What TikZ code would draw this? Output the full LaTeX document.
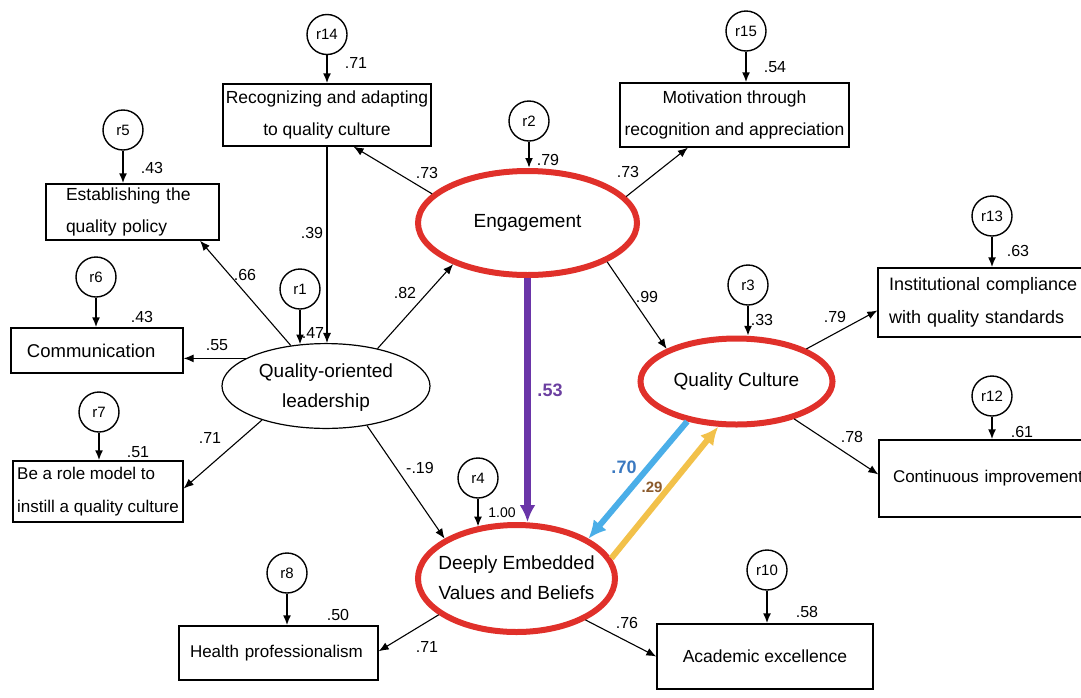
\documentclass[tikz,border=0pt]{standalone}
\usepackage{fontspec}
\setmainfont{Liberation Sans}
\usetikzlibrary{shapes.geometric,arrows.meta,calc}
\definecolor{semred}{HTML}{E0302A}
\definecolor{pathpurple}{HTML}{6A35A8}
\definecolor{pathblue}{HTML}{4AAEE8}
\definecolor{pathyellow}{HTML}{F2C14A}
\definecolor{numpurple}{HTML}{6B3FA0}
\definecolor{numblue}{HTML}{3A78C0}
\definecolor{numbrown}{HTML}{8B5A2B}
\hyphenpenalty=10000
\exhyphenpenalty=10000
% zero-width wrapper so ellipse nodes keep their own size
\newcommand\flatbox[1]{\makebox[0pt]{#1}}
\newcommand\twolines[2]{\flatbox{\begin{tabular}{@{}c@{}}#1\\#2\end{tabular}}}
\begin{document}
\begin{tikzpicture}[x=1pt,y=-1pt,
  obs/.style={draw, rectangle, line width=1.3pt, inner sep=0pt,
    font=\fontsize{17.5}{32.5}\selectfont},
  err/.style={draw, circle, line width=1.4pt, minimum size=40pt, inner sep=0pt,
    font=\fontsize{15}{18}\selectfont},
  latent/.style={draw=semred, ellipse, line width=6pt, inner sep=0pt,
    font=\fontsize{19}{30}\selectfont},
  exo/.style={draw, ellipse, line width=1.2pt, inner sep=0pt,
    font=\fontsize{19}{30}\selectfont},
  link/.style={-{Latex[length=10pt,width=8pt]}, line width=1.1pt},
  errlink/.style={-{Latex[length=10pt,width=8pt]}, line width=1.8pt},
  num/.style={font=\fontsize{16}{19}\selectfont, inner sep=0pt},
  bignum/.style={font=\fontsize{18}{21}\selectfont\bfseries, inner sep=0pt},
]
\useasboundingbox (0,0) rectangle (1081,697);

% ---- latent variables ----
\node[exo, minimum width=208pt, minimum height=78pt] (lead) at (326,386)
  {\twolines{Quality-oriented}{leadership}};
\node[latent, minimum width=219pt, minimum height=104pt] (eng) at (527.5,223)
  {\flatbox{Engagement}};
\node[latent, minimum width=192pt, minimum height=86pt] (qc) at (736.5,381.5)
  {\flatbox{Quality Culture}};
\node[latent, minimum width=197pt, minimum height=107pt] (devb) at (516.5,578.5)
  {\twolines{Deeply Embedded}{Values and Beliefs}};

% ---- observed indicators ----
\node[obs, minimum width=208pt, minimum height=62pt, align=center] (rec) at (327,115)
  {Recognizing and adapting\\to quality culture};
\node[obs, minimum height=56pt, text width=133pt, inner xsep=20pt, align=left] (est) at (132.5,212)
  {Establishing the\\quality policy};
\node[obs, minimum width=229pt, minimum height=64pt, align=center] (mot) at (734.5,115)
  {Motivation through\\recognition and appreciation};
\node[obs, minimum height=45pt, text width=140pt, inner xsep=16pt, align=left,
  font=\fontsize{18.5}{22}\selectfont] (comm) at (97,350.5) {Communication};
\node[obs, minimum width=170pt, minimum height=61pt, align=left,
  font=\fontsize{17}{32.5}\selectfont] (role) at (98,491.5)
  {Be a role model to\\instill a quality culture};
\node[obs, minimum height=69pt, text width=205pt, inner xsep=11pt, align=left,
  font=\fontsize{18}{33}\selectfont] (inst) at (991.5,302.5)
  {Institutional compliance\\with quality standards};
\node[obs, minimum height=77pt, text width=205pt, inner xsep=14pt, align=left,
  font=\fontsize{17}{32}\selectfont] (cont) at (995.5,478.5) {Continuous improvement};
\node[obs, minimum height=54pt, text width=177pt, inner xsep=11pt, align=left,
  font=\fontsize{17}{22}\selectfont] (health) at (278.5,653) {Health professionalism};
\node[obs, minimum width=216pt, minimum height=65pt, align=center] (acad) at (765,656.5)
  {Academic excellence};

% ---- error terms ----
\node[err] (r14) at (327,34.5) {r14};
\node[err] (r5) at (123,130) {r5};
\node[err] (r15) at (746,31) {r15};
\node[err] (r2) at (529,121) {r2};
\node[err] (r6) at (96,277) {r6};
\node[err] (r1) at (300,289) {r1};
\node[err] (r7) at (99,412) {r7};
\node[err] (r13) at (992,216) {r13};
\node[err] (r3) at (748,285) {r3};
\node[err] (r12) at (992,396) {r12};
\node[err] (r4) at (478,478) {r4};
\node[err] (r8) at (287,573) {r8};
\node[err] (r10) at (767,570) {r10};

% ---- error arrows ----
\draw[errlink] (r14.south) -- (rec.north);
\draw[errlink] (r5.south) -- (r5.south |- est.north);
\draw[errlink] (r15.south) -- (r15.south |- mot.north);
\draw[errlink] (r2.south) -- (r2.south |- eng.north);
\draw[errlink] (r6.south) -- (r6.south |- comm.north);
\draw[errlink] (r1.south) -- (r1.south |- lead.124.5);
\draw[errlink] (r7.south) -- (r7.south |- role.north);
\draw[errlink] (r13.south) -- (r13.south |- inst.north);
\draw[errlink] (r3.south) -- (r3.south |- qc.75);
\draw[errlink] (r12.south) -- (r12.south |- cont.north);
\draw[errlink] (r4.south) -- (r4.south |- devb.128);
\draw[errlink] (r8.south) -- (r8.south |- health.north);
\draw[errlink] (r10.south) -- (r10.south |- acad.north);

% ---- structural and measurement paths ----
\draw[link] (eng.163.9) -- (rec.-50);
\draw[link] (rec.south) -- (rec.south |- lead.north);
\draw[link] (lead.131.7) -- (est.-23);
\draw[link] (lead.161.3) -- (lead.161.3 -| comm.east);
\draw[link] (lead.-152) -- (role.2.4);
\draw[link] (lead.36.5) -- (eng.-151.9);
\draw[link] (lead.-44.5) -- (devb.151);
\draw[link] (eng.15.3) -- (mot.-145.2);
\draw[link] (eng.-26.6) -- (qc.155.1);
\draw[link] (qc.25.6) -- (inst.-176);
\draw[link] (qc.-33.4) -- (cont.178.5);
\draw[link] (devb.-155.9) -- (health.1.7);
\draw[link] (devb.-31.6) -- (acad.west);
\draw[pathpurple, line width=7pt, -{Latex[length=17pt,width=16pt]}]
  (eng.south) -- (eng.south |- devb.north);
\draw[pathblue, line width=6pt, -{Latex[length=18pt,width=17pt]}]
  (qc.-141.8) -- (devb.29.5);
\draw[pathyellow, line width=6pt, -{Latex[length=18pt,width=17pt]}]
  (devb.12.9) -- (qc.-112.8);

% ---- coefficients ----
\node[num] (c1) at (356,63) {.71};
\node[num] (c2) at (152,168) {.43};
\node[num] (c3) at (427,173) {.73};
\node[num] (c4) at (312,233) {.39};
\node[num] (c5) at (548,160) {.79};
\node[num] (c6) at (628,172) {.73};
\node[num] (c7) at (775,67) {.54};
\node[num] (c8) at (245,275) {.66};
\node[num] (c9) at (142,317) {.43};
\node[num] (c10) at (313,333) {.47};
\node[num] (c11) at (217,345) {.55};
\node[num] (c12) at (405,293) {.82};
\node[num] (c13) at (138,452) {.51};
\node[num] (c14) at (210,438) {.71};
\node[num] (c15) at (420,468) {-.19};
\node[num] (c16) at (647,297) {.99};
\node[num] (c17) at (762,320) {.33};
\node[num] (c18) at (1018,251) {.63};
\node[num] (c19) at (835,317) {.79};
\node[num] (c20) at (1022,432) {.61};
\node[num] (c21) at (852,437) {.78};
\node[num, font=\fontsize{14}{17}\selectfont] (c22) at (502,513) {1.00};
\node[num] (c23) at (338,615) {.50};
\node[num] (c24) at (427,647) {.71};
\node[num] (c25) at (807,612) {.58};
\node[num] (c26) at (627,623) {.76};
\node[bignum, numpurple] (c27) at (550,390) {.53};
\node[bignum, numblue] (c28) at (624,467) {.70};
\node[num, numbrown, font=\fontsize{15}{18}\selectfont\bfseries] (c29) at (652,487) {.29};
\end{tikzpicture}
\end{document}
